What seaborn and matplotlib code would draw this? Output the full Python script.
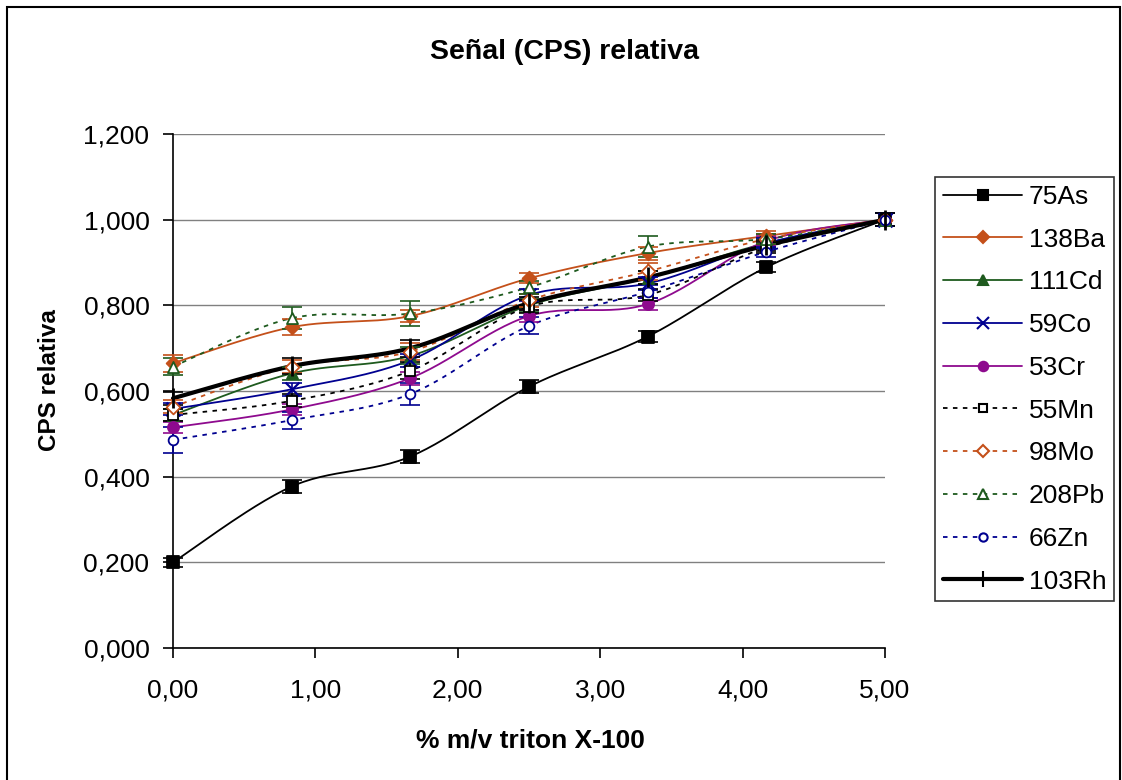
import numpy as np
import pandas as pd
import matplotlib
matplotlib.use("Agg")
import matplotlib.pyplot as plt
from matplotlib.lines import Line2D
import seaborn as sns

x_vals = [0.0, 0.833, 1.667, 2.5, 3.333, 4.167, 5.0]

series_names = ["75As", "138Ba", "111Cd", "59Co", "53Cr", "55Mn", "98Mo", "208Pb", "66Zn", "103Rh"]

as75 = [0.200, 0.377, 0.447, 0.610, 0.727, 0.889, 1.000]
ba138 = [0.665, 0.749, 0.775, 0.863, 0.922, 0.962, 1.000]
cd111 = [0.544, 0.641, 0.682, 0.800, 0.864, 0.945, 1.000]
co59 = [0.558, 0.604, 0.672, 0.824, 0.851, 0.945, 1.000]
cr53 = [0.515, 0.557, 0.630, 0.775, 0.803, 0.950, 1.000]
mn55 = [0.544, 0.577, 0.647, 0.797, 0.824, 0.935, 1.000]
mo98 = [0.563, 0.657, 0.692, 0.812, 0.879, 0.955, 1.000]
pb208 = [0.657, 0.770, 0.781, 0.842, 0.937, 0.955, 1.000]
zn66 = [0.486, 0.532, 0.593, 0.752, 0.832, 0.925, 1.000]
rh103 = [0.583, 0.658, 0.700, 0.805, 0.865, 0.940, 1.000]

as75_err = [0.010, 0.015, 0.015, 0.015, 0.012, 0.012, 0.015]
ba138_err = [0.020, 0.018, 0.015, 0.012, 0.015, 0.012, 0.015]
cd111_err = [0.015, 0.015, 0.020, 0.015, 0.015, 0.012, 0.015]
co59_err = [0.015, 0.015, 0.015, 0.015, 0.015, 0.012, 0.015]
cr53_err = [0.012, 0.012, 0.015, 0.015, 0.015, 0.012, 0.015]
mn55_err = [0.015, 0.015, 0.020, 0.015, 0.015, 0.012, 0.015]
mo98_err = [0.015, 0.015, 0.020, 0.015, 0.020, 0.012, 0.015]
pb208_err = [0.020, 0.025, 0.030, 0.015, 0.025, 0.012, 0.015]
zn66_err = [0.030, 0.020, 0.025, 0.020, 0.015, 0.012, 0.015]
rh103_err = [0.015, 0.018, 0.020, 0.015, 0.015, 0.012, 0.015]

values = [as75, ba138, cd111, co59, cr53, mn55, mo98, pb208, zn66, rh103]
errors = [as75_err, ba138_err, cd111_err, co59_err, cr53_err, mn55_err, mo98_err, pb208_err, zn66_err, rh103_err]

y_ticks = [0.0, 0.2, 0.4, 0.6, 0.8, 1.0, 1.2]
y_tick_labels = ["0,000", "0,200", "0,400", "0,600", "0,800", "1,000", "1,200"]
x_ticks = [0, 1, 2, 3, 4, 5]
x_tick_labels = ["0,00", "1,00", "2,00", "3,00", "4,00", "5,00"]

BROWN = "#C4501A"
GREEN = "#1E5A1E"
NAVY = "#000090"
PURPLE = "#8E0A8E"

styles = [
    dict(color="black", ls="-", lw=1.3, marker="s", filled=True, ms=8),
    dict(color=BROWN, ls="-", lw=1.3, marker="D", filled=True, ms=7),
    dict(color=GREEN, ls="-", lw=1.3, marker="^", filled=True, ms=8),
    dict(color=NAVY, ls="-", lw=1.3, marker="x", filled=True, ms=10),
    dict(color=PURPLE, ls="-", lw=1.3, marker="o", filled=True, ms=8),
    dict(color="black", ls=(0, (2.5, 3)), lw=1.3, marker="s", filled=False, ms=7),
    dict(color=BROWN, ls=(0, (2.5, 3)), lw=1.3, marker="D", filled=False, ms=7),
    dict(color=GREEN, ls=(0, (2.5, 3)), lw=1.3, marker="^", filled=False, ms=8),
    dict(color=NAVY, ls=(0, (2.5, 3)), lw=1.3, marker="o", filled=False, ms=7),
    dict(color="black", ls="-", lw=3.0, marker="|", filled=True, ms=14),
]


def smooth(xs, ys, n=30):
    xs = np.asarray(xs, float)
    ys = np.asarray(ys, float)
    P = np.column_stack([xs, ys])
    P = np.vstack([P[0], P, P[-1]])
    out = []
    for i in range(1, len(P) - 2):
        p0, p1, p2, p3 = P[i - 1], P[i], P[i + 1], P[i + 2]
        t = np.linspace(0, 1, n)[:, None]
        b1 = p1 + (p2 - p0) / 6.0
        b2 = p2 - (p3 - p1) / 6.0
        seg = ((1 - t) ** 3) * p1 + 3 * ((1 - t) ** 2) * t * b1 + 3 * (1 - t) * t ** 2 * b2 + t ** 3 * p2
        out.append(seg if i == 1 else seg[1:])
    out = np.vstack(out)
    return out[:, 0], out[:, 1]


sns.set_theme(style="white")
plt.rcParams["font.family"] = ["Liberation Sans", "DejaVu Sans"]
plt.rcParams["text.color"] = "black"
plt.rcParams["xtick.color"] = "black"
plt.rcParams["ytick.color"] = "black"
plt.rcParams["axes.labelcolor"] = "black"

fig = plt.figure(figsize=(11.22, 7.8), dpi=100)
ax = fig.add_axes([173 / 1122, 1 - 648 / 780, (885 - 173) / 1122, (648 - 134) / 780])

handles = []
for name, vals, errs, st in zip(series_names, values, errors, styles):
    df = pd.DataFrame({"x": x_vals, "y": vals})
    sx, sy = smooth(df["x"], df["y"])
    ax.plot(sx, sy, color=st["color"], ls=st["ls"], lw=st["lw"], zorder=3, clip_on=False)
    ax.errorbar(df["x"], df["y"], yerr=errs, fmt="none", ecolor=st["color"],
                elinewidth=1.2, capsize=7, capthick=1.2, zorder=4, clip_on=False)
    face = st["color"] if st["filled"] else "white"
    if st["marker"] in ("x", "|", "+"):
        sns.scatterplot(data=df, x="x", y="y", ax=ax, marker=st["marker"], s=st["ms"] ** 2,
                        color=st["color"], linewidth=1.6 if st["marker"] != "|" else 2.0, zorder=5,
                        legend=False, clip_on=False)
    else:
        sns.scatterplot(data=df, x="x", y="y", ax=ax, marker=st["marker"], s=st["ms"] ** 2,
                        facecolor=face, edgecolor=st["color"], linewidth=1.3, zorder=5,
                        legend=False, clip_on=False)
    handles.append(Line2D([0], [0], color=st["color"], ls=st["ls"], lw=st["lw"], marker=st["marker"],
                          markersize=st["ms"] * 0.85, markerfacecolor=face if st["marker"] not in ("x", "|") else st["color"],
                          markeredgecolor=st["color"], markeredgewidth=1.5, label=name))

ax.set_xlim(0, 5)
ax.set_ylim(0, 1.2)
ax.set_xticks(x_ticks)
ax.set_xticklabels(x_tick_labels, fontsize=19, color="black")
ax.set_yticks(y_ticks)
ax.set_yticklabels(y_tick_labels, fontsize=19, color="black")
ax.set_xlabel("")
ax.set_ylabel("")
ax.yaxis.grid(True, color="#808080", lw=1.0)
ax.set_axisbelow(True)
for sp in ["top", "right"]:
    ax.spines[sp].set_visible(False)
for sp in ["left", "bottom"]:
    ax.spines[sp].set_color("black")
    ax.spines[sp].set_linewidth(1.2)
ax.tick_params(axis="both", direction="out", length=7, width=1.2, color="black", bottom=True, left=True)
ax.tick_params(axis="y", pad=10)
ax.tick_params(axis="x", pad=15)

fig.text(564 / 1122, 1 - 52 / 780, "Señal (CPS) relativa", ha="center", va="center", fontsize=20.5,
         fontweight="bold", color="black")
fig.text(530 / 1122, 1 - 741 / 780, "% m/v triton X-100", ha="center", va="center", fontsize=19,
         fontweight="bold", color="black")
fig.text(50 / 1122, 1 - 380 / 780, "CPS relativa", ha="center", va="center", fontsize=17.5,
         fontweight="bold", rotation=90, color="black")

leg = fig.legend(handles=handles, loc="upper left", bbox_to_anchor=(935 / 1122, 1 - 177 / 780),
                 fontsize=19, frameon=True, fancybox=False, edgecolor="black", handlelength=3.0,
                 labelspacing=0.71, borderpad=0.3, handletextpad=0.25, borderaxespad=0)
leg.get_frame().set_linewidth(1.2)
for t in leg.get_texts():
    t.set_color("black")

fig.patches.append(plt.Rectangle((7 / 1122, -0.05), 1113 / 1122, 1.05 - 7 / 780, transform=fig.transFigure,
                                 fill=False, edgecolor="black", lw=1.5))

fig.savefig("out.png", dpi=100)
